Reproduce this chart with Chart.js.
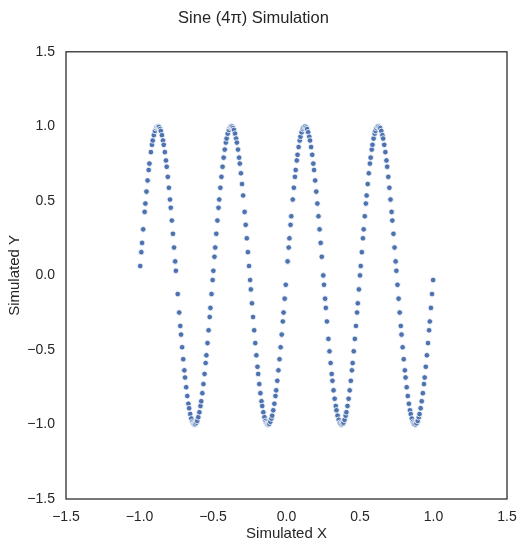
<!DOCTYPE html>
<html>
<head>
<meta charset="utf-8">
<script src="https://cdn.jsdelivr.net/npm/chart.js@4"></script>
<style>
  html, body { margin: 0; padding: 0; background: #fff; }
  #wrap { width: 529px; height: 549px; }
</style>
</head>
<body>
<div id="wrap"><canvas id="sim-chart"></canvas></div>
<script>
// values
const simX = [
  -0.995, -0.9875, -0.9825, -0.975, -0.965, -0.96, -0.9525, -0.945, -0.9375, -0.9325, -0.9225, -0.915, -0.91, -0.9025, -0.895, -0.8875, -0.8825, -0.8775, -0.8725, -0.8675, -0.86, -0.855, -0.8475, -0.84, -0.835, -0.8275, -0.82, -0.815, -0.8075, -0.8, -0.7925, -0.7875, -0.78, -0.7725, -0.765, -0.7575, -0.7525, -0.74, -0.73, -0.7225, -0.7175, -0.71, -0.7025, -0.695, -0.69, -0.6825, -0.675, -0.6675, -0.6625, -0.655, -0.6475, -0.64, -0.635, -0.63, -0.625, -0.62, -0.6125, -0.6075, -0.6, -0.5925, -0.585, -0.58, -0.5725, -0.565, -0.5575, -0.55, -0.545, -0.5375, -0.53, -0.5225, -0.5175, -0.51, -0.5025,
  -0.4975, -0.49, -0.485, -0.4775, -0.47, -0.4625, -0.4575, -0.45, -0.4425, -0.435, -0.4275, -0.42, -0.4125, -0.4075, -0.4, -0.3925, -0.385, -0.38, -0.375, -0.37, -0.3625, -0.3575, -0.35, -0.3425, -0.3375, -0.33, -0.3225, -0.3175, -0.31, -0.3025, -0.295, -0.285, -0.2775, -0.27, -0.2625, -0.255, -0.2475, -0.2425, -0.235, -0.2275, -0.22, -0.2125, -0.205, -0.1975, -0.1925, -0.185, -0.1775, -0.17, -0.165, -0.1575, -0.15, -0.1425, -0.1375, -0.1325, -0.1275, -0.1225, -0.1175, -0.11, -0.1025, -0.0975, -0.09, -0.0825, -0.075, -0.07, -0.0625, -0.055, -0.0475, -0.04, -0.0325, -0.025, -0.02, -0.0125, -0.005,
  0.0075, 0.015, 0.02, 0.0275, 0.0325, 0.0425, 0.05, 0.0575, 0.0625, 0.07, 0.075, 0.0825, 0.09, 0.095, 0.1025, 0.11, 0.115, 0.1225, 0.1275, 0.135, 0.14, 0.1475, 0.155, 0.16, 0.1675, 0.175, 0.1825, 0.1875, 0.195, 0.2025, 0.21, 0.2175, 0.225, 0.2325, 0.24, 0.25, 0.255, 0.2625, 0.2675, 0.275, 0.285, 0.2925, 0.3, 0.3075, 0.3125, 0.32, 0.3275, 0.335, 0.34, 0.3475, 0.355, 0.3625, 0.3675, 0.375, 0.3825, 0.3875, 0.395, 0.4025, 0.4075, 0.415, 0.4225, 0.43, 0.4375, 0.445, 0.45, 0.4575, 0.465, 0.4725, 0.48, 0.485, 0.4925,
  0.5, 0.505, 0.5125, 0.52, 0.525, 0.5325, 0.54, 0.545, 0.5525, 0.56, 0.5675, 0.5725, 0.58, 0.585, 0.5925, 0.6, 0.605, 0.6125, 0.62, 0.625, 0.6325, 0.6375, 0.645, 0.6525, 0.6575, 0.665, 0.6725, 0.68, 0.685, 0.6925, 0.7, 0.7075, 0.715, 0.72, 0.7275, 0.735, 0.7425, 0.7475, 0.755, 0.7625, 0.77, 0.7775, 0.7825, 0.79, 0.7975, 0.805, 0.81, 0.8175, 0.825, 0.8325, 0.84, 0.845, 0.8525, 0.86, 0.865, 0.87, 0.8775, 0.885, 0.8925, 0.9, 0.905, 0.9125, 0.92, 0.9275, 0.935, 0.94, 0.9475, 0.955, 0.9625, 0.97, 0.975, 0.9825, 0.99, 0.9975
];
const simY = [
  0.063, 0.156, 0.218, 0.309, 0.426, 0.482, 0.562, 0.637, 0.707, 0.750, 0.827, 0.876, 0.905, 0.941, 0.969, 0.988, 0.996, 0.999, 0.999, 0.996, 0.982, 0.969, 0.941, 0.905, 0.876, 0.827, 0.771, 0.729, 0.661, 0.588, 0.509, 0.454, 0.368, 0.279, 0.187, 0.094, 0.031, -0.125, -0.249, -0.339, -0.397, -0.482, -0.562, -0.637, -0.685, -0.750, -0.809, -0.861, -0.891, -0.930, -0.960, -0.982, -0.992, -0.998, -1.000, -0.998, -0.988, -0.976, -0.951, -0.918, -0.876, -0.844, -0.790, -0.729, -0.661, -0.588, -0.536, -0.454, -0.368, -0.279, -0.218, -0.125, -0.031,
  0.031, 0.125, 0.187, 0.279, 0.368, 0.454, 0.509, 0.588, 0.661, 0.729, 0.790, 0.844, 0.891, 0.918, 0.951, 0.976, 0.992, 0.998, 1.000, 0.998, 0.988, 0.976, 0.951, 0.918, 0.891, 0.844, 0.790, 0.750, 0.685, 0.613, 0.536, 0.426, 0.339, 0.249, 0.156, 0.063, -0.031, -0.094, -0.187, -0.279, -0.368, -0.454, -0.536, -0.613, -0.661, -0.729, -0.790, -0.844, -0.876, -0.918, -0.951, -0.976, -0.988, -0.996, -1.000, -1.000, -0.996, -0.982, -0.960, -0.941, -0.905, -0.861, -0.809, -0.771, -0.707, -0.637, -0.562, -0.482, -0.397, -0.309, -0.249, -0.156, -0.063,
  0.094, 0.187, 0.249, 0.339, 0.397, 0.509, 0.588, 0.661, 0.707, 0.771, 0.809, 0.861, 0.905, 0.930, 0.960, 0.982, 0.992, 0.999, 0.999, 0.992, 0.982, 0.960, 0.930, 0.905, 0.861, 0.809, 0.750, 0.707, 0.637, 0.562, 0.482, 0.397, 0.309, 0.218, 0.125, 0.000, -0.063, -0.156, -0.218, -0.309, -0.426, -0.509, -0.588, -0.661, -0.707, -0.771, -0.827, -0.876, -0.905, -0.941, -0.969, -0.988, -0.996, -1.000, -0.996, -0.988, -0.969, -0.941, -0.918, -0.876, -0.827, -0.771, -0.707, -0.637, -0.588, -0.509, -0.426, -0.339, -0.249, -0.187, -0.094,
  0.000, 0.063, 0.156, 0.249, 0.309, 0.397, 0.482, 0.536, 0.613, 0.685, 0.750, 0.790, 0.844, 0.876, 0.918, 0.951, 0.969, 0.988, 0.998, 1.000, 0.996, 0.988, 0.969, 0.941, 0.918, 0.876, 0.827, 0.771, 0.729, 0.661, 0.588, 0.509, 0.426, 0.368, 0.279, 0.187, 0.094, 0.031, -0.063, -0.156, -0.249, -0.339, -0.397, -0.482, -0.562, -0.637, -0.685, -0.750, -0.809, -0.861, -0.905, -0.930, -0.960, -0.982, -0.992, -0.998, -1.000, -0.992, -0.976, -0.951, -0.930, -0.891, -0.844, -0.790, -0.729, -0.685, -0.613, -0.536, -0.454, -0.368, -0.309, -0.218, -0.125, -0.031
];
const axisMin = -1.5;
const axisMax = 1.5;
const axisStep = 0.5;

const TEXT = '#262626';
const FONT = "'Liberation Sans', Arial, sans-serif";

const points = simX.map((x, i) => ({ x: x, y: simY[i] }));

// full box round the plot area, like matplotlib spines
const frame = {
    id: 'frame',
    afterDraw(chart) {
        const { ctx, chartArea: a } = chart;
        ctx.save();
        ctx.strokeStyle = TEXT;
        ctx.lineWidth = 1.25;
        ctx.strokeRect(a.left, a.top, a.right - a.left, a.bottom - a.top);
        ctx.restore();
    }
};

const fmt = v => v.toFixed(1).replace('-', '\u2212');

new Chart(document.getElementById('sim-chart'), {
    type: 'scatter',
    data: {
        datasets: [{
            data: points,
            backgroundColor: '#4c72b0',
            borderColor: '#ffffff',
            borderWidth: 0.8,
            pointRadius: 2.8,
            pointHoverRadius: 2.8
        }]
    },
    options: {
        responsive: true,
        maintainAspectRatio: false,
        animation: false,
        layout: { padding: { left: 0, right: 22, top: 0, bottom: 0 } },
        plugins: {
            legend: { display: false },
            tooltip: { enabled: false },
            title: {
                display: true,
                text: 'Sine (4π) Simulation',
                color: TEXT,
                font: { family: FONT, size: 16.5, weight: 'normal' },
                padding: { top: 9, bottom: 23 }
            }
        },
        scales: {
            x: {
                min: axisMin, max: axisMax,
                grid: { display: false, drawTicks: false },
                border: { display: false },
                ticks: { stepSize: axisStep, color: TEXT, padding: 10, maxRotation: 0,
                         font: { family: FONT, size: 14 }, callback: fmt },
                title: { display: true, text: 'Simulated X', color: TEXT,
                         font: { family: FONT, size: 15 }, padding: { top: 0, bottom: 6 } },
                afterFit: s => { s.height = 50; }
            },
            y: {
                min: axisMin, max: axisMax,
                grid: { display: false, drawTicks: false },
                border: { display: false },
                ticks: { stepSize: axisStep, color: TEXT, padding: 11,
                         font: { family: FONT, size: 14 }, callback: fmt },
                title: { display: true, text: 'Simulated Y', color: TEXT,
                         font: { family: FONT, size: 15 }, padding: { top: 6, bottom: 0 } },
                afterFit: s => { s.width = 66; }
            }
        }
    },
    plugins: [frame]
});
</script>
</body>
</html>
